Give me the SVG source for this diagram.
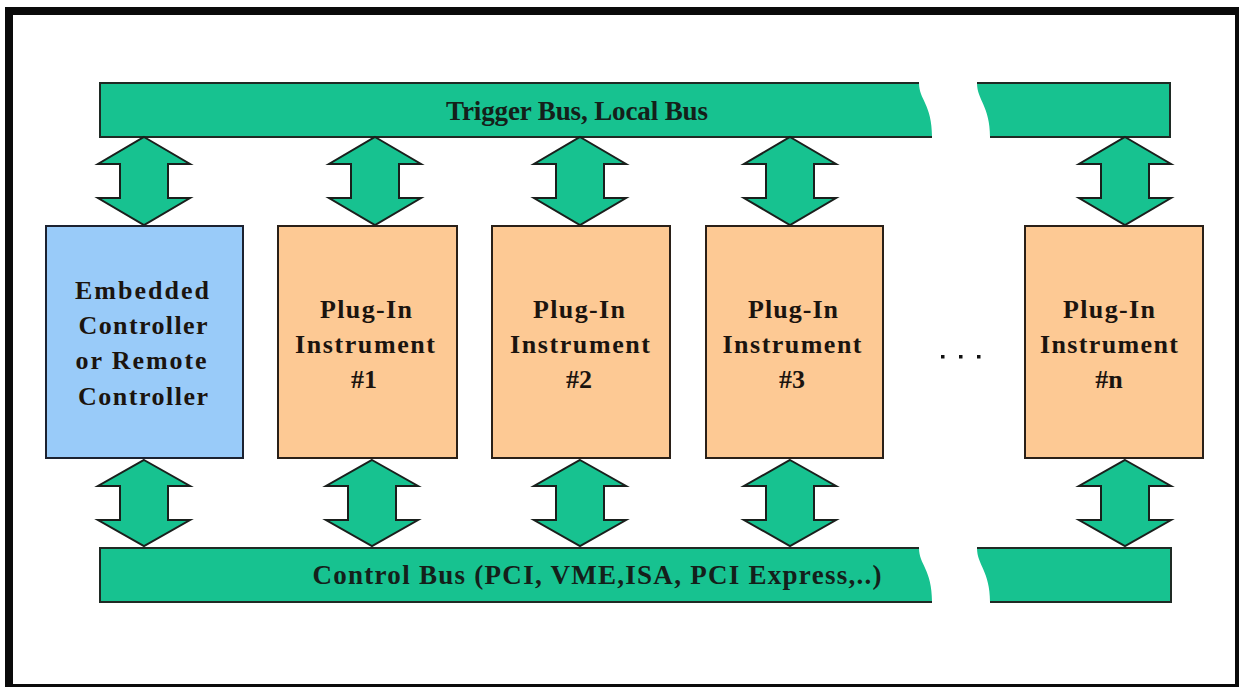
<svg xmlns="http://www.w3.org/2000/svg" width="1241" height="687" viewBox="0 0 1241 687">
  <style>
    .bus { fill: #17c290; }
    .bus-edge { fill: none; stroke: #1f2a24; stroke-width: 2; }
    .link { fill: #17c290; stroke: #1a1f1c; stroke-width: 2; stroke-linejoin: miter; }
    .ctrl { fill: #99cbf9; stroke: #1c2230; stroke-width: 2; }
    .inst { fill: #fdc994; stroke: #2a2018; stroke-width: 2; }
    .lbl { font-family: "Liberation Serif", "Times New Roman", serif; font-weight: bold; font-size: 26px; fill: #1b140f; text-anchor: middle; }
    .buslbl { font-family: "Liberation Serif", "Times New Roman", serif; font-weight: bold; font-size: 27px; fill: #14201a; text-anchor: middle; }
  </style>
  <defs>
    <!-- double-headed block arrow, centred on x=0 -->
    <polygon id="dbl" class="link" points="0,0 46,27 24,27 24,61 46,61 0,88 -46,61 -24,61 -24,27 -46,27"/>
    <polygon id="dbl2" class="link" points="0,0 46,26 24,26 24,60 46,60 0,86 -46,60 -24,60 -24,26 -46,26"/>
  </defs>

  <!-- frame -->
  <rect x="5" y="7" width="1234" height="680" fill="#0a0a0a"/>
  <rect x="13" y="15" width="1222" height="669" fill="#ffffff"/>

  <!-- trigger / local bus -->
  <g id="trigger-bus">
    <path class="bus" d="M100,83 H919 C919,100 932,104 932,137 H100 Z"/>
    <path class="bus-edge" d="M919,83 H100 V137 H932"/>
    <path class="bus" d="M977,83 H1170 V137 H990 C990,106 977,100 977,83 Z"/>
    <path class="bus-edge" d="M977,83 H1170 V137 H990"/>
    <text class="buslbl" x="577" y="120" textLength="262" lengthAdjust="spacing">Trigger Bus, Local Bus</text>
  </g>

  <!-- control bus -->
  <g id="control-bus">
    <path class="bus" d="M100,548 H919 C919,565 932,569 932,602 H100 Z"/>
    <path class="bus-edge" d="M919,548 H100 V602 H932"/>
    <path class="bus" d="M977,548 H1171 V602 H990 C990,571 977,565 977,548 Z"/>
    <path class="bus-edge" d="M977,548 H1171 V602 H990"/>
    <text class="buslbl" x="597" y="584" textLength="569" lengthAdjust="spacing">Control Bus (PCI, VME,ISA, PCI Express,..)</text>
  </g>

  <!-- connectors between buses and modules -->
  <g id="connectors">
    <use href="#dbl" x="144" y="137"/>
    <use href="#dbl" x="375" y="137"/>
    <use href="#dbl" x="580" y="137"/>
    <use href="#dbl" x="790" y="137"/>
    <use href="#dbl" x="1125" y="137"/>
    <use href="#dbl2" x="144" y="460"/>
    <use href="#dbl2" x="372" y="460"/>
    <use href="#dbl2" x="580" y="460"/>
    <use href="#dbl2" x="790" y="460"/>
    <use href="#dbl2" x="1125" y="460"/>
  </g>

  <g id="controller">
    <rect class="ctrl" x="46" y="226" width="197" height="232"/>
    <text class="lbl" x="142" y="299" textLength="134" lengthAdjust="spacing">Embedded</text>
    <text class="lbl" x="143" y="334" textLength="129" lengthAdjust="spacing">Controller</text>
    <text class="lbl" x="141" y="369" textLength="131" lengthAdjust="spacing">or Remote</text>
    <text class="lbl" x="143" y="405" textLength="130" lengthAdjust="spacing">Controller</text>
  </g>

  <g id="instrument-1">
    <rect class="inst" x="278" y="226" width="179" height="232"/>
    <text class="lbl" x="366" y="318" textLength="92" lengthAdjust="spacing">Plug-In</text>
    <text class="lbl" x="365" y="353" textLength="140" lengthAdjust="spacing">Instrument</text>
    <text class="lbl" x="364" y="388">#1</text>
  </g>

  <g id="instrument-2">
    <rect class="inst" x="492" y="226" width="178" height="232"/>
    <text class="lbl" x="579" y="318" textLength="92" lengthAdjust="spacing">Plug-In</text>
    <text class="lbl" x="580" y="353" textLength="140" lengthAdjust="spacing">Instrument</text>
    <text class="lbl" x="579" y="388">#2</text>
  </g>

  <g id="instrument-3">
    <rect class="inst" x="706" y="226" width="177" height="232"/>
    <text class="lbl" x="793" y="318" textLength="90" lengthAdjust="spacing">Plug-In</text>
    <text class="lbl" x="792" y="353" textLength="139" lengthAdjust="spacing">Instrument</text>
    <text class="lbl" x="792" y="388">#3</text>
  </g>

  <!-- ellipsis between modules -->
  <g id="ellipsis" fill="#111">
    <rect x="941" y="355" width="3.5" height="3.5"/>
    <rect x="959" y="355" width="3.5" height="3.5"/>
    <rect x="977" y="355" width="3.5" height="3.5"/>
  </g>

  <g id="instrument-n">
    <rect class="inst" x="1025" y="226" width="178" height="232"/>
    <text class="lbl" x="1109" y="318" textLength="92" lengthAdjust="spacing">Plug-In</text>
    <text class="lbl" x="1109" y="353" textLength="138" lengthAdjust="spacing">Instrument</text>
    <text class="lbl" x="1109" y="388">#n</text>
  </g>
</svg>
